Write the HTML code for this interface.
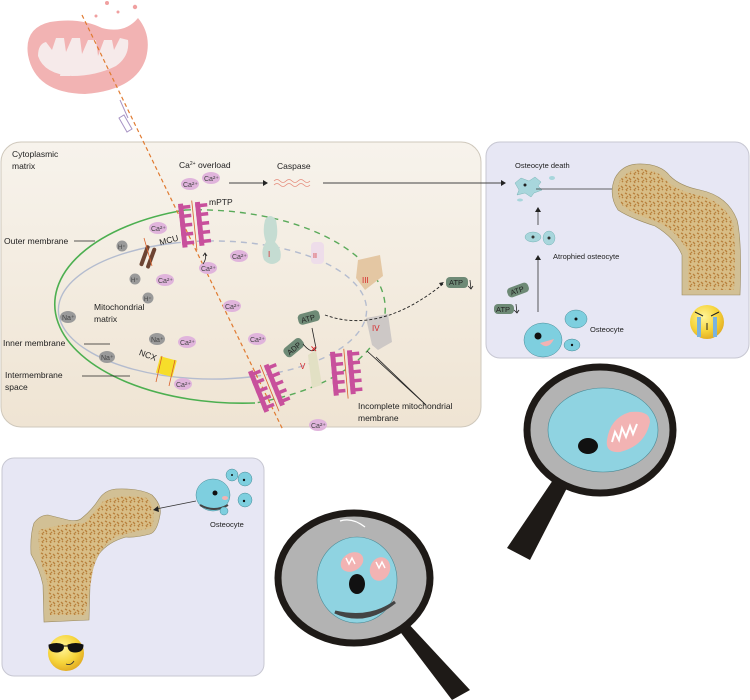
<!DOCTYPE html>
<html><head><meta charset="utf-8"><style>
html,body{margin:0;padding:0;background:#fff;}
svg{display:block;font-family:"Liberation Sans",sans-serif;}
</style></head><body>
<svg width="750" height="700" viewBox="0 0 750 700" xmlns="http://www.w3.org/2000/svg">
<defs>
<linearGradient id="bg1" x1="0" y1="0" x2="0" y2="1"><stop offset="0" stop-color="#f7f3ec"/><stop offset="1" stop-color="#efe4d3"/></linearGradient>
<radialGradient id="emo" cx="0.4" cy="0.35" r="0.7"><stop offset="0" stop-color="#fff59a"/><stop offset="0.6" stop-color="#f6d43a"/><stop offset="1" stop-color="#e0a820"/></radialGradient>
<pattern id="sp" width="8" height="8" patternUnits="userSpaceOnUse"><rect width="8" height="8" fill="#d8bd86"/><path d="M1 1l2 1M5 2l2 2M2 5l1 2M6 6l1-1M4 4l-1 1" stroke="#b8803c" stroke-width="1.3"/></pattern>
<g id="comb"><rect x="0" y="0" width="5" height="44" fill="#c8509c"/><rect x="0" y="2" width="12" height="3.5" fill="#c8509c"/><rect x="0" y="11" width="12" height="3.5" fill="#c8509c"/><rect x="0" y="20" width="12" height="3.5" fill="#c8509c"/><rect x="0" y="29" width="12" height="3.5" fill="#c8509c"/><rect x="0" y="38" width="12" height="3.5" fill="#c8509c"/></g>
<g id="mptp"><use href="#comb"/><use href="#comb" x="17"/><line x1="14" y1="-2" x2="14" y2="48" stroke="#d9602a" stroke-width="0.8"/></g>
</defs>

<!-- top mitochondrion -->
<path d="M28 55 Q24 28 50 22 Q80 17 102 28 Q125 34 138 18 Q152 35 146 58 Q136 90 85 94 Q35 93 28 55Z" fill="#f2b3b3"/>
<path d="M38 56 Q38 44 46 42 L52 50 L56 38 L64 38 L66 52 L72 38 L80 38 L82 54 L88 40 L96 40 L98 56 L104 40 L112 40 L114 50 L120 38 L128 40 Q130 56 116 66 Q96 76 72 76 Q44 74 38 56Z" fill="#f6eaea"/>
<path d="M60 76 L62 64 L68 66 L70 76Z M90 74 L92 62 L98 64 L99 72Z" fill="#f6eaea"/>
<circle cx="107" cy="3" r="2" fill="#f0a0a0"/><circle cx="135" cy="7" r="2.2" fill="#f0a0a0"/><circle cx="96" cy="16" r="1.5" fill="#f0a0a0"/><circle cx="118" cy="12" r="1.5" fill="#f0a0a0"/>
<path d="M120 100 L128 118 M124 115 l8 14 l-5 3 l-8-14z" stroke="#a894c4" stroke-width="1" fill="#fff"/>

<rect x="1" y="142" width="480" height="285" rx="20" fill="url(#bg1)" stroke="#cfc8bc"/>
<rect x="486" y="142" width="263" height="216" rx="14" fill="#e7e7f4" stroke="#c7c7d2"/>
<rect x="2" y="458" width="262" height="218" rx="12" fill="#e7e7f4" stroke="#c7c7d2"/>

<path d="M185 210 A188 99 0 0 0 255 403" fill="none" stroke="#4caf50" stroke-width="1.6"/>
<path d="M185 210 A188 99 0 0 1 255 403" fill="none" stroke="#5aaa5a" stroke-width="1.4" stroke-dasharray="6 5"/>
<path d="M175 243 A154 69 0 0 0 250 377" fill="none" stroke="#b4bccf" stroke-width="1.4"/>
<path d="M175 243 A154 69 0 0 1 250 377" fill="none" stroke="#b4bccf" stroke-width="1.4" stroke-dasharray="6 5"/>

<line x1="82" y1="15" x2="283" y2="430" stroke="#e07a30" stroke-width="1.2" stroke-dasharray="4 3"/>

<g transform="translate(178,204) rotate(-6)"><use href="#mptp"/></g>
<g transform="translate(248,372) rotate(-22)"><use href="#mptp"/></g>
<g transform="translate(330,352) rotate(-5)"><use href="#mptp"/></g>

<path d="M265 220 Q270 212 276 220 Q279 235 275 242 Q283 250 280 260 Q272 268 264 260 Q260 250 266 242 Q262 232 265 220Z" fill="#c5dcd2"/>
<text x="268" y="257" fill="#d6262b" font-size="8">I</text>
<rect x="311" y="242" width="13" height="22" rx="4" fill="#eeddea"/>
<text x="313" y="258" fill="#d6262b" font-size="7">II</text>
<path d="M358 260 L380 255 L383 276 L365 290 L356 278Z" fill="#e4c7a3"/>
<text x="362" y="283" fill="#d6262b" font-size="8">III</text>
<path d="M366 318 L388 314 L392 342 L378 350 L372 345Z" fill="#cdc8c6"/>
<text x="372" y="331" fill="#d6262b" font-size="8">IV</text>
<path d="M308 355 L316 350 L322 385 L312 388Z" fill="#e2e0c4"/>
<text x="300" y="369" fill="#d6262b" font-size="8">V</text>

<g transform="translate(148,258) rotate(20)"><rect x="-6" y="-12" width="4" height="22" rx="2" fill="#6d4433"/><rect x="1" y="-12" width="4" height="22" rx="2" fill="#6d4433"/></g>
<line x1="144" y1="238" x2="152" y2="266" stroke="#d9602a" stroke-width="0.8"/>
<rect x="158" y="358" width="17" height="17" fill="#f6dd2a" transform="rotate(15 166 366)"/>
<line x1="162" y1="356" x2="156" y2="382" stroke="#d9602a" stroke-width="0.8"/>
<line x1="175" y1="360" x2="169" y2="386" stroke="#d9602a" stroke-width="0.8"/>

<g font-size="7" fill="#444">
<g fill="#e0b4dc"><ellipse cx="190" cy="184" rx="9" ry="6"/><ellipse cx="211" cy="178" rx="9" ry="6"/><ellipse cx="158" cy="228" rx="9" ry="6"/><ellipse cx="165" cy="280" rx="9" ry="6"/><ellipse cx="208" cy="268" rx="9" ry="6"/><ellipse cx="239" cy="256" rx="9" ry="6"/><ellipse cx="232" cy="306" rx="9" ry="6"/><ellipse cx="187" cy="342" rx="9" ry="6"/><ellipse cx="257" cy="339" rx="9" ry="6"/><ellipse cx="183" cy="384" rx="9" ry="6"/><ellipse cx="318" cy="425" rx="9" ry="6"/></g>
<text x="183" y="187">Ca²⁺</text><text x="204" y="181">Ca²⁺</text><text x="151" y="231">Ca²⁺</text><text x="158" y="283">Ca²⁺</text><text x="201" y="271">Ca²⁺</text><text x="232" y="259">Ca²⁺</text><text x="225" y="309">Ca²⁺</text><text x="180" y="345">Ca²⁺</text><text x="250" y="342">Ca²⁺</text><text x="176" y="387">Ca²⁺</text><text x="311" y="428">Ca²⁺</text>
<g fill="#9a9a9a"><circle cx="122" cy="246" r="5.5"/><circle cx="135" cy="279" r="5.5"/><circle cx="148" cy="298" r="5.5"/><ellipse cx="68" cy="317" rx="8" ry="6"/><ellipse cx="157" cy="339" rx="8" ry="6"/><ellipse cx="107" cy="357" rx="8" ry="6"/></g>
<text x="118" y="249" font-size="6">H⁺</text><text x="131" y="282" font-size="6">H⁺</text><text x="144" y="301" font-size="6">H⁺</text><text x="62" y="320">Na⁺</text><text x="151" y="342">Na⁺</text><text x="101" y="360">Na⁺</text>
</g>

<g font-size="7.5" fill="#222">
<rect x="298" y="312" width="22" height="11" rx="4" fill="#6e8a76" transform="rotate(-15 309 318)"/><text x="301" y="321" transform="rotate(-15 309 318)">ATP</text>
<rect x="283" y="342" width="22" height="11" rx="4" fill="#6e8a76" transform="rotate(-40 294 348)"/><text x="286" y="351" transform="rotate(-40 294 348)">ADP</text>
<rect x="446" y="277" width="22" height="11" rx="4" fill="#6e8a76"/><text x="449" y="285">ATP</text>
<rect x="507" y="285" width="22" height="10" rx="4" fill="#6e8a76" transform="rotate(-20 518 290)"/><text x="510" y="293" transform="rotate(-20 518 290)">ATP</text>
<rect x="494" y="304" width="20" height="10" rx="4" fill="#6e8a76"/><text x="496" y="312">ATP</text>
</g>
<path d="M303 344 Q312 355 316 348 L312 328" fill="none" stroke="#222" stroke-width="0.8"/>
<text x="310" y="352" fill="#d6262b" font-size="9">✕</text>
<path d="M325 315 Q380 335 443 284" fill="none" stroke="#222" stroke-width="0.9" stroke-dasharray="3 2"/>
<path d="M444 282 l-5 1 l2 3z" fill="#222"/>
<path d="M470 280 l1 9 M468 286 l3 3 l2-3" stroke="#222" stroke-width="0.8" fill="none"/>
<path d="M516 304 l1 9 M514 310 l3 3 l2-3" stroke="#222" stroke-width="0.8" fill="none"/>
<path d="M203 264 q4-6 2-10 M203 256 l2-3 l2 3" stroke="#222" stroke-width="0.8" fill="none"/>

<line x1="229" y1="183" x2="265" y2="183" stroke="#444" stroke-width="1"/><path d="M268 183 l-5-3 v6z" fill="#222"/>
<path d="M274 181 q3-3 6 0 t6 0 t6 0 t6 0 t6 0 t6 0 M274 185 q3-3 6 0 t6 0 t6 0 t6 0 t6 0 t6 0" stroke="#e58a7a" stroke-width="0.8" fill="none"/>
<line x1="323" y1="183" x2="503" y2="183" stroke="#444" stroke-width="1"/><path d="M506 183 l-5-3 v6z" fill="#222"/>

<g font-size="8.5" fill="#222">
<text x="12" y="157">Cytoplasmic</text><text x="12" y="169">matrix</text>
<text x="179" y="168">Ca<tspan font-size="5" dy="-3">2+</tspan><tspan dy="3"> overload</tspan></text>
<text x="277" y="169">Caspase</text>
<text x="209" y="205">mPTP</text>
<text x="4" y="244">Outer membrane</text>
<text x="159" y="244" transform="rotate(-15 165 240)">MCU</text>
<text x="94" y="310">Mitochondrial</text><text x="94" y="322">matrix</text>
<text x="3" y="346">Inner membrane</text>
<text x="139" y="358" transform="rotate(20 148 355)">NCX</text>
<text x="5" y="378">Intermembrane</text><text x="5" y="390">space</text>
<text x="358" y="409">Incomplete mitochondrial</text><text x="358" y="421">membrane</text>
</g>
<g stroke="#222" stroke-width="0.8"><line x1="74" y1="241" x2="95" y2="241"/><line x1="84" y1="344" x2="110" y2="344"/><line x1="82" y1="376" x2="130" y2="376"/>
<line x1="367" y1="351" x2="426" y2="405"/><line x1="376" y1="357" x2="426" y2="405"/></g>

<g font-size="7.5" fill="#222"><text x="515" y="168">Osteocyte death</text><text x="553" y="259">Atrophied osteocyte</text><text x="590" y="332">Osteocyte</text></g>
<path d="M515 183 l6-5 l8 3 l6-4 l6 5 l-3 4 l4 4 l-8 3 l-3 4 l-6-4 l-8 2 l2-5z" fill="#a8d6dc" stroke="#6aa" stroke-width="0.4"/>
<circle cx="525" cy="185" r="1.5" fill="#222"/>
<ellipse cx="520" cy="200" rx="3" ry="1.5" fill="#a8d6dc"/><ellipse cx="552" cy="178" rx="3" ry="2" fill="#a8d6dc"/>
<line x1="536" y1="189" x2="615" y2="189" stroke="#333" stroke-width="0.8"/><path d="M618 189 l-5-3 v6z" fill="#222"/>
<ellipse cx="533" cy="237" rx="8" ry="5" fill="#a8d6dc" stroke="#6aa" stroke-width="0.4"/><ellipse cx="549" cy="238" rx="6" ry="7" fill="#a8d6dc" stroke="#6aa" stroke-width="0.4"/>
<circle cx="533" cy="237" r="1.5" fill="#333"/><circle cx="549" cy="238" r="1.5" fill="#333"/>
<line x1="538" y1="225" x2="538" y2="210" stroke="#333" stroke-width="0.8"/><path d="M538 207 l-3 5 h6z" fill="#222"/>
<line x1="538" y1="312" x2="538" y2="258" stroke="#333" stroke-width="0.8"/><path d="M538 255 l-3 5 h6z" fill="#222"/>
<ellipse cx="543" cy="340" rx="19" ry="17" fill="#7ecfdf" stroke="#4a8a96" stroke-width="0.5"/>
<circle cx="538" cy="336" r="3.5" fill="#111"/>
<path d="M540 343 q8 8 14-4 z" fill="#f2b3b3"/>
<ellipse cx="576" cy="319" rx="11" ry="9" fill="#7ecfdf" stroke="#4a8a96" stroke-width="0.5"/><circle cx="576" cy="319" r="1.5" fill="#111"/>
<ellipse cx="572" cy="345" rx="8" ry="6" fill="#7ecfdf" stroke="#4a8a96" stroke-width="0.5"/><circle cx="572" cy="345" r="1.2" fill="#111"/>
<path d="M615 178 Q622 165 637 164 Q660 163 670 176 Q680 186 700 190 Q728 196 737 220 Q742 240 740 295 L682 295 L682 255 Q675 238 655 226 Q630 218 618 210 Q608 195 615 178Z" fill="#d2c095" stroke="#9a8a60" stroke-width="0.6"/>
<path d="M620 180 Q628 170 640 169 Q658 170 666 180 Q678 192 702 196 Q726 204 733 224 Q736 245 734 290 L688 290 L688 252 Q678 232 658 222 Q632 214 622 205 Q615 193 620 180Z" fill="url(#sp)"/>
<circle cx="707" cy="322" r="17" fill="url(#emo)"/>
<path d="M695 312 l8 4 M719 312 l-8 4" stroke="#222" stroke-width="1"/>
<rect x="697" y="317" width="4" height="20" fill="#7ab3df"/><rect x="713" y="317" width="4" height="20" fill="#7ab3df"/>
<line x1="707" y1="323" x2="707" y2="330" stroke="#222"/>

<path d="M99 499 Q105 490 116 489 Q140 488 152 495 Q162 505 160 515 Q157 532 150 534 Q135 538 126 537 Q108 542 99 554 Q91 568 90 585 L89 620 L44 622 L43 585 Q40 570 31 554 Q30 535 34 523 Q40 515 48 515 Q60 518 68 520 Q78 522 82 518 Q92 510 99 499Z" fill="#d2c095" stroke="#9a8a60" stroke-width="0.6"/>
<path d="M102 502 Q120 493 147 498 Q157 508 152 528 Q130 532 115 537 Q98 548 93 570 L85 615 L50 615 L47 580 Q37 555 39 530 Q60 524 85 523 Q95 512 102 502Z" fill="url(#sp)"/>
<line x1="196" y1="501" x2="156" y2="509" stroke="#333" stroke-width="0.8"/><path d="M153 510 l5-4 l1 6z" fill="#222"/>
<ellipse cx="213" cy="495" rx="17" ry="16" fill="#7ecfdf" stroke="#4a8a96" stroke-width="0.5"/><circle cx="215" cy="493" r="2.5" fill="#111"/>
<path d="M200 505 q14 8 28 0" stroke="#444" stroke-width="2" fill="none"/><ellipse cx="225" cy="498" rx="3" ry="2" fill="#f2b3b3"/>
<circle cx="232" cy="475" r="6" fill="#7ecfdf" stroke="#4a8a96" stroke-width="0.5"/><circle cx="245" cy="479" r="7" fill="#7ecfdf" stroke="#4a8a96" stroke-width="0.5"/><circle cx="245" cy="500" r="7" fill="#7ecfdf" stroke="#4a8a96" stroke-width="0.5"/><circle cx="224" cy="511" r="4" fill="#7ecfdf" stroke="#4a8a96" stroke-width="0.5"/>
<circle cx="232" cy="475" r="1" fill="#111"/><circle cx="244" cy="480" r="1.2" fill="#111"/><circle cx="244" cy="501" r="1.2" fill="#111"/>
<text x="210" y="527" font-size="7.5" fill="#222">Osteocyte</text>
<circle cx="66" cy="653" r="18" fill="url(#emo)"/>
<path d="M49 645 q8-3 14 0 q2 6-6 7 q-8 0-8-7z M68 645 q8-3 15 0 q0 7-8 7 q-7 0-7-7z M62 646 h7" fill="#111" stroke="#111"/>
<path d="M66 664 q5 2 8-3" stroke="#333" fill="none" stroke-width="0.8"/>

<path d="M395 625 L405 620 L470 690 L452 700Z" fill="#1e1a17"/>
<ellipse cx="354" cy="578" rx="76" ry="65" fill="#b3b3b3" stroke="#1e1a17" stroke-width="7"/>
<ellipse cx="357" cy="580" rx="40" ry="43" fill="#8fd3e1" stroke="#4a8a96" stroke-width="0.6"/>
<path d="M340 521 q12-4 25 6" stroke="#fff" stroke-width="1.3" fill="none"/>
<ellipse cx="357" cy="584" rx="8" ry="10" fill="#111"/>
<path d="M335 612 q30 14 60-10 q-25 18-60 10z" fill="#444" stroke="#444" stroke-width="3"/>
<ellipse cx="352" cy="562" rx="12" ry="9" fill="#f2b3b3" transform="rotate(-30 352 562)"/>
<ellipse cx="380" cy="569" rx="10" ry="12" fill="#f2b3b3" transform="rotate(20 380 569)"/>
<path d="M346 558 l3 6 l3-6 l3 6 M376 562 l3 6 l3-6 l3 6" stroke="#fff" stroke-width="1.4" fill="none"/>

<path d="M553 480 L568 486 L530 560 L507 548Z" fill="#1e1a17"/>
<ellipse cx="600" cy="430" rx="73" ry="63" fill="#b3b3b3" stroke="#1e1a17" stroke-width="7"/>
<ellipse cx="603" cy="430" rx="55" ry="42" fill="#8fd3e1" stroke="#4a8a96" stroke-width="0.6"/>
<ellipse cx="588" cy="446" rx="10" ry="8" fill="#111"/>
<path d="M607 440 Q610 418 630 412 Q650 410 650 422 Q645 446 620 452 Q605 453 607 440Z" fill="#f2b3b3"/>
<path d="M612 442 l3-10 l4 8 l3-12 l4 9 l4-11 l3 8 l4-10" stroke="#fff" stroke-width="2" fill="none"/>
</svg>
</body></html>
